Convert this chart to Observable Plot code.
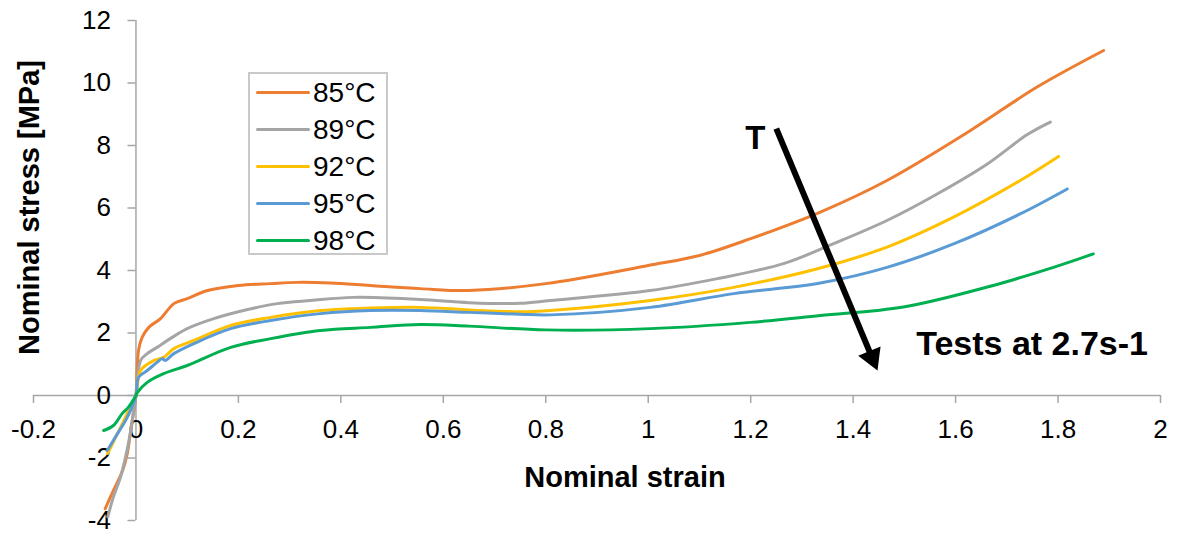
<!DOCTYPE html>
<html>
<head>
<meta charset="utf-8">
<script src="https://cdn.jsdelivr.net/npm/d3@7"></script>
<script src="https://cdn.jsdelivr.net/npm/@observablehq/plot@0.6"></script>
<style>
  html, body { margin: 0; padding: 0; background: #fff; }
  #wrap { position: relative; width: 1178px; height: 534px; font-family: "Liberation Sans", Arial, sans-serif; }
  #legend { position: absolute; left: 248px; top: 72px; width: 136px; height: 179px; border: 2px solid #c9c9c9; background: #fff; }
  .row { position: absolute; left: 0; height: 37px; line-height: 37px; font-size: 28px; color: #000; white-space: nowrap; }
  .sw { position: absolute; left: 6px; top: 17px; width: 54px; height: 3px; border-radius: 2px; }
  .lab { position: absolute; left: 63px; top: 0; }
</style>
</head>
<body>
<div id="wrap"></div>
<script>
// ---- data ----
const seriesNames = ["85°C", "89°C", "92°C", "95°C", "98°C"];
const seriesColors = ["#ED7D31", "#A5A5A5", "#FFC000", "#5B9BD5", "#00B050"];

const x85 = [-0.06,-0.044,-0.026,-0.017,-0.011,-0.005,0,0.005,0.012,0.025,0.048,0.074,0.1,0.14,0.2,0.263,0.315,0.38,0.457,0.555,0.65,0.8,1.0,1.1,1.2,1.336,1.466,1.629,1.759,1.889];
const y85 = [-3.62,-3.04,-2.4,-1.86,-1.22,-0.58,0,1.44,1.86,2.18,2.46,2.94,3.1,3.36,3.52,3.58,3.62,3.6,3.52,3.42,3.36,3.58,4.16,4.48,5.02,5.87,6.88,8.48,9.87,11.04];

const x89 = [-0.055,-0.045,-0.03,-0.02,-0.012,-0.006,0,0.009,0.022,0.041,0.067,0.1,0.152,0.21,0.276,0.341,0.425,0.555,0.65,0.75,0.809,1.004,1.135,1.264,1.362,1.466,1.564,1.662,1.74,1.785];
const y89 = [-3.88,-3.3,-2.6,-1.95,-1.3,-0.65,0,1.12,1.34,1.54,1.82,2.14,2.46,2.72,2.94,3.04,3.14,3.07,2.97,2.95,3.04,3.36,3.74,4.22,4.86,5.6,6.45,7.41,8.35,8.75];

const x92 = [-0.055,-0.04,-0.025,-0.012,0,0.009,0.035,0.054,0.074,0.113,0.185,0.263,0.36,0.458,0.555,0.65,0.75,0.809,1.004,1.167,1.336,1.466,1.596,1.726,1.801];
const y92 = [-1.85,-1.35,-0.85,-0.4,0,0.8,1.12,1.22,1.5,1.76,2.24,2.5,2.72,2.8,2.82,2.74,2.68,2.72,3.04,3.46,4.08,4.75,5.71,6.88,7.65];

const x95 = [-0.056,-0.036,-0.017,0,0.005,0.022,0.041,0.051,0.057,0.074,0.113,0.185,0.263,0.36,0.458,0.555,0.65,0.75,0.809,1.004,1.167,1.336,1.466,1.596,1.726,1.818];
const y95 = [-1.76,-1.22,-0.7,0,0.58,0.8,1.06,1.18,1.12,1.34,1.66,2.14,2.4,2.62,2.72,2.72,2.66,2.6,2.58,2.82,3.26,3.6,4.1,4.85,5.81,6.61];

const x98 = [-0.063,-0.044,-0.027,-0.015,0,0.003,0.022,0.054,0.1,0.185,0.263,0.36,0.458,0.555,0.65,0.8,1.004,1.199,1.336,1.498,1.662,1.791,1.869];
const y98 = [-1.12,-0.96,-0.58,-0.38,0,0.1,0.42,0.7,0.96,1.54,1.82,2.08,2.18,2.27,2.22,2.1,2.14,2.34,2.56,2.83,3.47,4.1,4.53];

const xTicks = [-0.2,0,0.2,0.4,0.6,0.8,1,1.2,1.4,1.6,1.8,2];
const xTickLabels = ["-0.2","0","0.2","0.4","0.6","0.8","1","1.2","1.4","1.6","1.8","2"];
const yTicks = [-4,-2,0,2,4,6,8,10,12];
const yTickLabels = ["-4","-2","0","2","4","6","8","10","12"];

const xTitle = "Nominal strain";
const yTitle = "Nominal stress [MPa]";
const arrowStart = [1.25, 8.54];
const arrowTip = [1.4475, 0.80];
const tLabel = {text: "T", x: 1.209, y: 8.22};
const noteLabel = {text: "Tests at 2.7s-1", x: 1.523, y: 1.66};

// ---- build table ----
const xs = [x85, x89, x92, x95, x98];
const ys = [y85, y89, y92, y95, y98];
const rows = [];
seriesNames.forEach((name, i) => {
  xs[i].forEach((v, j) => rows.push({series: name, x: v, y: ys[i][j]}));
});

// ---- layout ----
const W = 1178, H = 534;
const mT = 20, mR = 18, mB = 14, mL = 33;
const xDom = [-0.2, 2], yDom = [-4, 12];
const pxPerX = (W - mL - mR) / (xDom[1] - xDom[0]);
const pxPerY = (H - mT - mB) / (yDom[1] - yDom[0]);
const tickLen = 8;
const axisColor = "#a6a6a6";
const font = "Liberation Sans, Arial, sans-serif";

// arrow geometry (pixel direction)
const dxp = (arrowTip[0] - arrowStart[0]) * pxPerX;
const dyp = -(arrowTip[1] - arrowStart[1]) * pxPerY;
const len = Math.hypot(dxp, dyp);
const ux = dxp / len, uy = dyp / len;
const angle = Math.atan2(ux, -uy) * 180 / Math.PI; // clockwise from up
const headR = 9;
const headBack = 2 * Math.sqrt(Math.PI * headR * headR / (Math.sqrt(3) * 3));
const headCenter = [arrowTip[0] - ux * headBack / pxPerX, arrowTip[1] + uy * headBack / pxPerY];

const chart = Plot.plot({
  width: W,
  height: H,
  marginTop: mT, marginRight: mR, marginBottom: mB, marginLeft: mL,
  style: {fontFamily: font, background: "#fff", overflow: "visible"},
  x: {domain: xDom, axis: null},
  y: {domain: yDom, axis: null},
  color: {domain: seriesNames, range: seriesColors},
  marks: [
    // axes
    Plot.ruleY([0], {x1: xDom[0], x2: xDom[1], stroke: axisColor, strokeWidth: 1.5}),
    Plot.ruleX(xTicks, {x: d => d, y1: 0, y2: -tickLen / pxPerY, stroke: axisColor, strokeWidth: 1.5}),
    Plot.ruleX([0], {y1: yDom[0], y2: yDom[1], stroke: axisColor, strokeWidth: 1.5}),
    Plot.ruleY(yTicks, {y: d => d, x1: -tickLen / pxPerX, x2: 0, stroke: axisColor, strokeWidth: 1.5}),
    Plot.text(yTicks, {x: 0, y: d => d, text: (d, i) => yTickLabels[i], dx: -25, textAnchor: "end", fontSize: 26, fill: "#000"}),
    Plot.text(xTicks, {x: d => d, y: 0, text: (d, i) => xTickLabels[i], dy: 34, fontSize: 26, fill: "#000"}),
    // titles
    Plot.text([xTitle], {frameAnchor: "bottom", text: d => d, textAnchor: "middle", lineAnchor: "middle", dx: 28, dy: -43, fontSize: 29, fontWeight: "bold", fill: "#000"}),
    Plot.text([yTitle], {frameAnchor: "left", text: d => d, textAnchor: "middle", lineAnchor: "middle", rotate: -90, dx: -4, dy: -63, fontSize: 29, fontWeight: "bold", fill: "#000"}),
    // curves
    Plot.line(rows, {x: "x", y: "y", z: "series", stroke: "series", strokeWidth: 3, curve: "catmull-rom", strokeLinecap: "round", strokeLinejoin: "round"}),
    // annotations
    Plot.link([0], {x1: arrowStart[0], y1: arrowStart[1], x2: headCenter[0], y2: headCenter[1], stroke: "#000", strokeWidth: 6}),
    Plot.dot([0], {x: headCenter[0], y: headCenter[1], symbol: "triangle", r: headR, fill: "#000", stroke: "none", rotate: angle}),
    Plot.text([tLabel], {x: "x", y: "y", text: "text", fontSize: 33, fontWeight: "bold", fill: "#000"}),
    Plot.text([noteLabel], {x: "x", y: "y", text: "text", textAnchor: "start", fontSize: 34, fontWeight: "bold", fill: "#000"})
  ]
});

const wrap = document.getElementById("wrap");
wrap.appendChild(chart);

// legend
const legend = document.createElement("div");
legend.id = "legend";
seriesNames.forEach((name, i) => {
  const row = document.createElement("div");
  row.className = "row";
  row.style.top = (i * 37) + "px";
  row.style.width = "100%";
  const sw = document.createElement("div");
  sw.className = "sw";
  sw.style.background = seriesColors[i];
  const lab = document.createElement("span");
  lab.className = "lab";
  lab.textContent = name;
  row.appendChild(sw);
  row.appendChild(lab);
  legend.appendChild(row);
});
wrap.appendChild(legend);
</script>
</body>
</html>
